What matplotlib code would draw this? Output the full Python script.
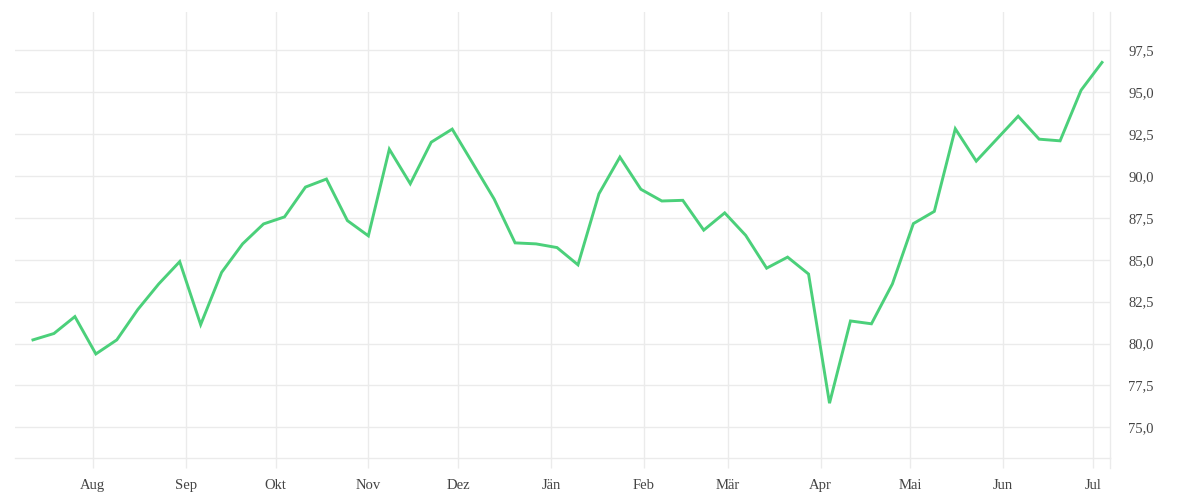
import matplotlib
matplotlib.use("Agg")
import matplotlib.pyplot as plt
import matplotlib.dates as mdates
import pandas as pd

# ---- data ----
start_date = "2018-07-12"
values = [80.22, 80.60, 81.61, 79.38, 80.22, 82.03, 83.56, 84.89, 81.13, 84.25,
          85.95, 87.14, 87.56, 89.34, 89.82, 87.34, 86.43, 91.60, 89.54, 92.02,
          92.80, 90.72, 88.63, 86.01, 85.95, 85.73, 84.70, 88.94, 91.13, 89.21,
          88.51, 88.55, 86.77, 87.80, 86.46, 84.50, 85.16, 84.15, 76.44, 81.35,
          81.18, 83.56, 87.16, 87.89, 92.82, 90.89, 92.23, 93.57, 92.20, 92.10,
          95.12, 96.78]
month_labels = ["Aug", "Sep", "Okt", "Nov", "Dez", "Jän", "Feb", "Mär",
                "Apr", "Mai", "Jun", "Jul"]
first_month = "2018-08-01"
y_ticks = [75.0, 77.5, 80.0, 82.5, 85.0, 87.5, 90.0, 92.5, 95.0, 97.5]

dates = pd.date_range(start_date, periods=len(values), freq="7D")
month_starts = pd.date_range(first_month, periods=len(month_labels), freq="MS")

GRID = "#ebebeb"
TEXT = "#444444"
LINE = "#4bd07a"

fig = plt.figure(figsize=(12, 5), dpi=100)
ax = fig.add_axes([15/1200, 42/500, 1095/1200, 446/500])

ax.plot(dates, values, color=LINE, lw=2.1, solid_joinstyle="miter", zorder=3)

ax.set_xlim(pd.Timestamp("2018-07-06"), pd.Timestamp("2019-07-06 16:00"))
ax.set_ylim(73.17, 99.79)

ax.set_xticks(mdates.date2num(month_starts))
ax.set_xticklabels(month_labels)

ax.yaxis.tick_right()
ax.set_yticks(y_ticks)
ax.set_yticklabels([f"{v:.1f}".replace(".", ",") for v in y_ticks])

for s in ["top", "left"]:
    ax.spines[s].set_visible(False)
ax.spines["bottom"].set_color(GRID)
ax.spines["bottom"].set_linewidth(1)
ax.spines["right"].set_color(GRID)
ax.spines["right"].set_linewidth(1)

ax.grid(True, color=GRID, lw=1)
ax.set_axisbelow(True)

ax.tick_params(axis="x", length=7.2, width=1, color=GRID, pad=8,
               labelsize=10.5, labelcolor=TEXT)
ax.tick_params(axis="y", length=0, pad=13, labelsize=10.5, labelcolor=TEXT)
for lab in ax.get_xticklabels() + ax.get_yticklabels():
    lab.set_fontfamily("Liberation Serif")

# extend right edge line down to tick length
ax.plot([1, 1], [-10/446, 0], transform=ax.transAxes, color=GRID, lw=1,
        clip_on=False, zorder=1)

fig.savefig("out.png", dpi=100, facecolor="white")
